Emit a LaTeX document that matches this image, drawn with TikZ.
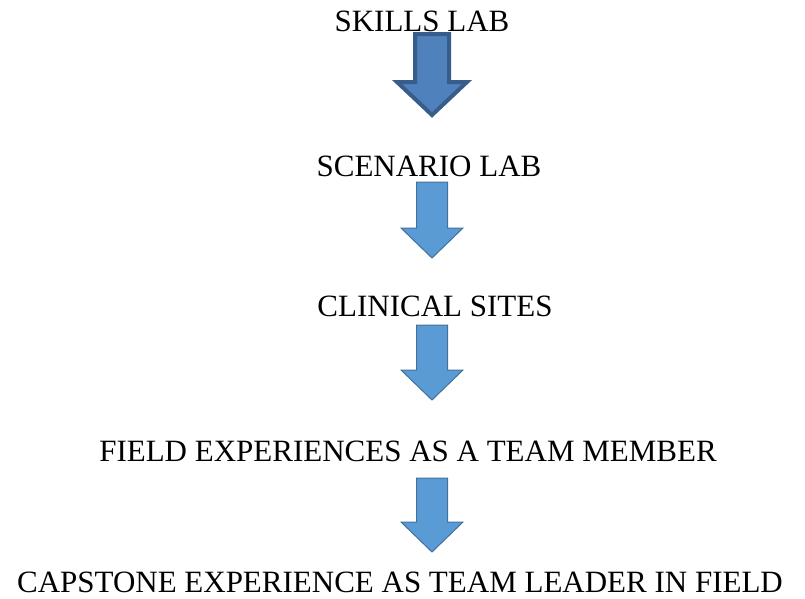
\documentclass[tikz,border=0pt]{standalone}
\usepackage{fontspec}
\setmainfont{Liberation Serif}
\definecolor{arrowfill}{HTML}{5B9BD5}
\definecolor{arrowline}{HTML}{41719C}
\definecolor{firstfill}{HTML}{4F81BD}
\definecolor{firstline}{HTML}{385D8A}

\NewDocumentCommand{\blockarrow}{mmmO{flowarrow}}{%
\begin{scope}[shift={(432,#1)}]%
\filldraw[#4] (-#2,0) -- (#2,0) -- (#2,#3) -- (2*#2,#3) -- (0,#3+30) -- (-2*#2,#3) -- (-#2,#3) -- cycle;
\end{scope}%
}

\begin{document}
\begin{tikzpicture}[x=1pt,y=-1pt,
    flowarrow/.style={fill=arrowfill,draw=arrowline,line width=1pt,line join=miter},
    firstarrow/.style={fill=firstfill,draw=firstline,line width=4pt,line join=miter},
    steplabel/.style={anchor=base,inner sep=0pt,text depth=0pt,font=\fontsize{31}{36}\selectfont}]
        \useasboundingbox (0,0) rectangle (805,598);

        % stages
        \node[steplabel] (skills) at (422,31) {SKILLS LAB};
        \node[steplabel] (scenario) at (429,176) {SCENARIO LAB};
        \node[steplabel] (clinical) at (435,316) {CLINICAL SITES};
        \node[steplabel] (field) at (408,461) {FIELD EXPERIENCES AS A TEAM MEMBER};
        \node[steplabel] (capstone) at (400,592) {CAPSTONE EXPERIENCE AS TEAM LEADER IN FIELD};

        % arrows
        \begin{scope}[shift={(432,34)}]
        \filldraw[firstarrow] (-17,0) -- (17,0) -- (17,48) -- (35,48) -- (0,81) -- (-35,48) -- (-17,48) -- cycle;
        \end{scope}
        \blockarrow{182}{15.5}{46}
        \blockarrow{325}{15.5}{45}
        \blockarrow{478}{15.5}{44}
    \end{tikzpicture}
\end{document}
